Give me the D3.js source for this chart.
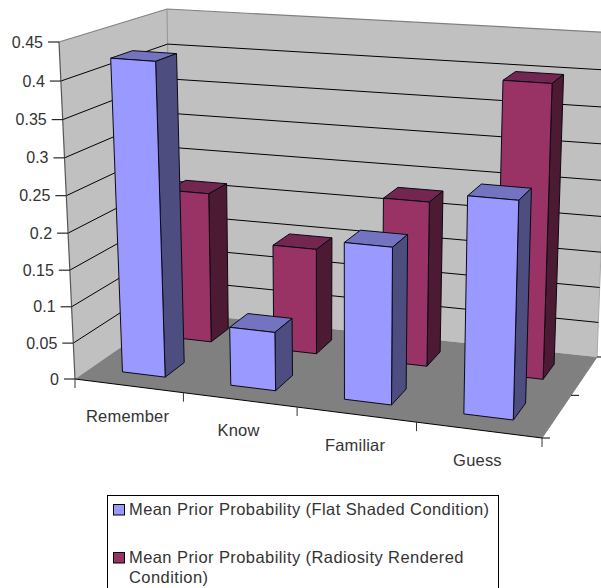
<!DOCTYPE html>
<html>
<head>
<meta charset="utf-8">
<style>
  html, body { margin: 0; padding: 0; background: #fff; overflow: hidden; }
  text { font-family: "Liberation Sans", Arial, sans-serif; fill: #333; }
</style>
<script src="https://cdn.jsdelivr.net/npm/d3@7/dist/d3.min.js"></script>
</head>
<body>
<svg id="chart" width="601" height="588"></svg>
<script>
// Category and series data
const categories = ["Remember", "Know", "Familiar", "Guess"];
const seriesNames = [
  "Mean Prior Probability (Flat Shaded Condition)",
  "Mean Prior Probability (Radiosity Rendered Condition)"
];
const flatShaded = [0.425, 0.08, 0.21, 0.285];
const radiosity = [0.215, 0.15, 0.23, 0.40];
const yTicks = [0, 0.05, 0.1, 0.15, 0.2, 0.25, 0.3, 0.35, 0.4, 0.45];

// Face colours per series: front, top, side
const flatColors = ["#9999FF", "#7373BF", "#4D4D80"];
const radiosityColors = ["#993366", "#732650", "#4D1A33"];

const svg = d3.select("#chart");

// Data scales on the unit cube: u across categories, v through the series rows, w up the value axis
const uScale = d3.scaleBand().domain(d3.range(categories.length)).range([0, 1])
  .paddingInner(0.6).paddingOuter(0.3);
const vScale = d3.scaleBand().domain([0, 1]).range([0, 1])
  .paddingInner(0.6).paddingOuter(0.3);
const wScale = d3.scaleLinear().domain([0, 0.45]).range([0, 1]);

// Screen positions of the eight box corners, index [u][v][w]
const box = [
  [[[75, 379], [59, 42]], [[172, 312], [167, 9]]],
  [[[542, 438], [552.5, 77]], [[597, 357], [609.5, 32.5]]]
];
// Foreshortening factors along each box axis
const foreU = 0.907, foreV = 1.115, foreW = 0.954;
const fore = (t, k) => t * k / (1 - t + t * k);

function project(u, v, w) {
  const a = fore(u, foreU), b = fore(v, foreV), c = fore(w, foreW);
  const out = [0, 0];
  for (const i of [0, 1]) {
    for (const j of [0, 1]) {
      for (const k of [0, 1]) {
        const f = (i ? a : 1 - a) * (j ? b : 1 - b) * (k ? c : 1 - c);
        out[0] += f * box[i][j][k][0];
        out[1] += f * box[i][j][k][1];
      }
    }
  }
  return out;
}

const line = d3.line();
const poly = pts => line(pts) + "Z";

// Walls and floor
svg.append("path").attr("d", poly([project(0,0,0), project(0,1,0), project(0,1,1), project(0,0,1)]))
  .attr("fill", "#C0C0C0");
svg.append("path").attr("d", poly([project(0,1,0), project(1,1,0), project(1,1,1), project(0,1,1)]))
  .attr("fill", "#C0C0C0");
svg.append("path").attr("d", line([project(0,0,1), project(0,1,1), project(1,1,1)]))
  .attr("fill", "none").attr("stroke", "#808080").attr("stroke-width", 1.2);
svg.append("path").attr("d", line([project(0,1,1), project(0,1,0)]))
  .attr("fill", "none").attr("stroke", "#999").attr("stroke-width", 1.2);
svg.append("path").attr("d", line([project(1,1,1), project(1,1,0)]))
  .attr("fill", "none").attr("stroke", "#A8A8A8").attr("stroke-width", 1);
svg.append("path").attr("d", poly([project(0,0,0), project(1,0,0), project(1,1,0), project(0,1,0)]))
  .attr("fill", "#808080");

// Gridlines across both walls
svg.append("g").selectAll("path").data(yTicks.slice(1, -1))
  .join("path")
  .attr("d", t => line([project(0,0,wScale(t)), project(0,1,wScale(t)), project(1,1,wScale(t))]))
  .attr("fill", "none").attr("stroke", "#000").attr("stroke-width", 1);

// Value axis line, ticks and labels
svg.append("path").attr("d", line([project(0,0,0), project(0,0,1)]))
  .attr("fill", "none").attr("stroke", "#555").attr("stroke-width", 1.2);
svg.append("path").attr("d", line([project(0,0,0), project(1,0,0)]))
  .attr("fill", "none").attr("stroke", "#000").attr("stroke-width", 1);
svg.append("path").attr("d", line([project(1,0,0), project(1,1,0)]))
  .attr("fill", "none").attr("stroke", "#808080").attr("stroke-width", 1);

const yAxis = svg.append("g").selectAll("g").data(yTicks).join("g")
  .attr("transform", t => { const p = project(0,0,wScale(t)); return `translate(${p[0]},${p[1]})`; });
yAxis.append("line").attr("x1", -11).attr("x2", 0).attr("stroke", "#000");
yAxis.append("text").attr("x", -16).attr("y", 5.5).attr("text-anchor", "end")
  .attr("font-size", 16).text(d => d);

// Category ticks along the front edge, and depth ticks along the right edge
const uEdges = d3.range(categories.length + 1).map(i => i / categories.length);
svg.append("g").selectAll("line").data(uEdges).join("line")
  .attr("x1", t => project(t,0,0)[0]).attr("x2", t => project(t,0,0)[0])
  .attr("y1", t => project(t,0,0)[1]).attr("y2", t => project(t,0,0)[1] + 9)
  .attr("stroke", "#333");
svg.append("g").selectAll("line").data([0, 0.5, 1]).join("line")
  .attr("x1", t => project(1,t,0)[0]).attr("x2", t => project(1,t,0)[0] + 8)
  .attr("y1", t => project(1,t,0)[1]).attr("y2", t => project(1,t,0)[1])
  .attr("stroke", "#000");

svg.append("g").selectAll("text").data(categories).join("text")
  .attr("x", (d, i) => project((i + 0.5) / categories.length, 0, 0)[0] - 1)
  .attr("y", (d, i) => project((i + 0.5) / categories.length, 0, 0)[1] + 36.5)
  .attr("text-anchor", "middle").attr("font-size", 16.5)
  .attr("letter-spacing", 0.2).text(d => d);

// One column: top, side and front faces in painter's order
function drawBar(cat, row, value, colors) {
  const u0 = uScale(cat), u1 = u0 + uScale.bandwidth();
  const v0 = vScale(row), v1 = v0 + vScale.bandwidth();
  const w = wScale(value);
  const faces = [
    [[[u0,v0,w],[u1,v0,w],[u1,v1,w],[u0,v1,w]], colors[1]],
    [[[u1,v0,0],[u1,v1,0],[u1,v1,w],[u1,v0,w]], colors[2]],
    [[[u0,v0,0],[u1,v0,0],[u1,v0,w],[u0,v0,w]], colors[0]]
  ];
  svg.append("g").selectAll("path").data(faces).join("path")
    .attr("d", f => poly(f[0].map(p => project(p[0], p[1], p[2]))))
    .attr("fill", f => f[1])
    .attr("stroke", "#0a0a14").attr("stroke-width", 1).attr("stroke-linejoin", "round");
}

// Rear row first, then the front row, each from left to right
radiosity.forEach((d, i) => drawBar(i, 1, d, radiosityColors));
flatShaded.forEach((d, i) => drawBar(i, 0, d, flatColors));

// Legend box, running off the bottom edge
const legend = svg.append("g");
legend.append("rect").attr("x", 107.5).attr("y", 495.5).attr("width", 391).attr("height", 120)
  .attr("fill", "#fff").attr("stroke", "#000");
legend.append("rect").attr("x", 113.5).attr("y", 504.5).attr("width", 11).attr("height", 10.5)
  .attr("fill", flatColors[0]).attr("stroke", "#000");
legend.append("rect").attr("x", 113.5).attr("y", 552.5).attr("width", 11).attr("height", 10.5)
  .attr("fill", radiosityColors[0]).attr("stroke", "#000");
const legendSize = 16.5, legendSpacing = 0.42;
const legendRows = [
  [seriesNames[0], 514.5],
  ["Mean Prior Probability (Radiosity Rendered", 562.5],
  ["Condition)", 582.5]
];
legend.selectAll("text").data(legendRows).join("text")
  .attr("x", 129).attr("y", d => d[1]).attr("font-size", legendSize)
  .attr("letter-spacing", legendSpacing).text(d => d[0]);
</script>
</body>
</html>
